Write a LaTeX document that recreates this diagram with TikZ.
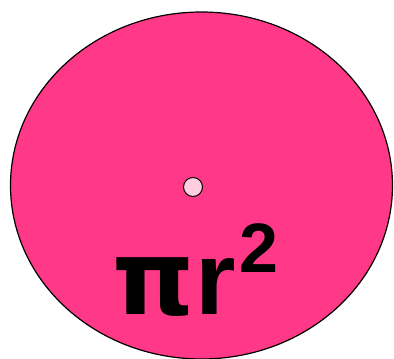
\documentclass[tikz,border=0pt]{standalone}
\usepackage{fontspec}
\setmainfont{Liberation Sans}
\newfontfamily\pifont{DejaVu Sans}
\usetikzlibrary{shapes.geometric}
\definecolor{disk}{RGB}{255,56,136}
\definecolor{dot}{RGB}{255,204,224}
\tikzset{
  diskstyle/.style={draw=black, line width=1.2pt, fill=disk},
  dotstyle/.style={draw=black, line width=1pt, fill=dot},
}
\begin{document}
\begin{tikzpicture}[x=1pt,y=-1pt]
\useasboundingbox (0,0) rectangle (394,359);
\fill[white] (0,0) rectangle (394,359);
\node[diskstyle, ellipse, minimum width=382pt, minimum height=347pt, inner sep=0pt] (disk) at (201.5,185.5) {};
\node[dotstyle, circle, minimum size=19pt, inner sep=0pt] (center) at (193,187) {};
\node[anchor=base west, inner sep=0pt] (area) at (112,314) {\fontsize{104}{104}\selectfont\bfseries{\pifont π}\kern1pt r\kern4pt\raisebox{42pt}{\fontsize{70}{70}\selectfont 2}};
\end{tikzpicture}
\end{document}
